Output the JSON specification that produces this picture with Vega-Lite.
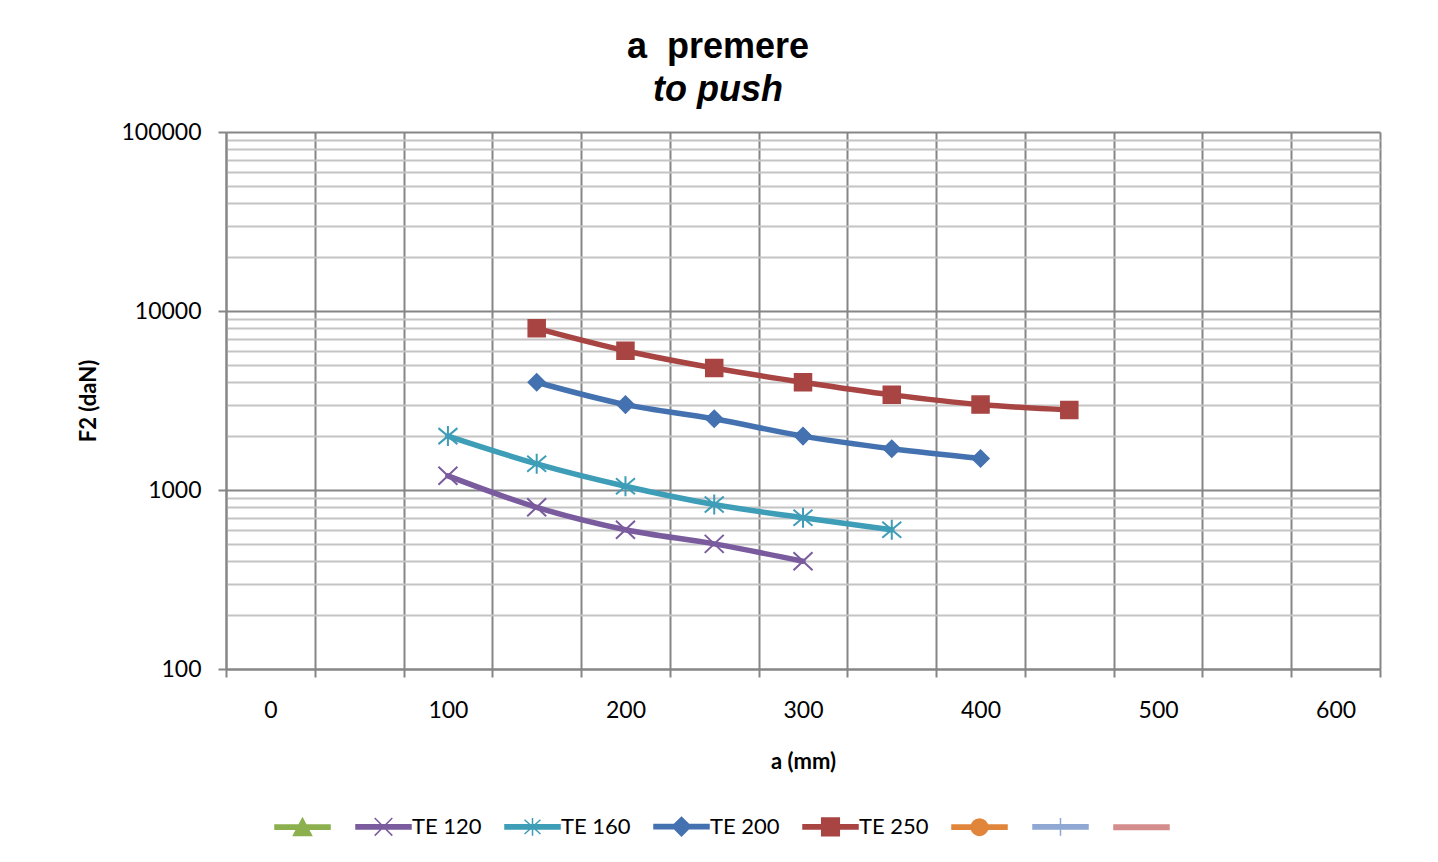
{
  "$schema": "https://vega.github.io/schema/vega-lite/v6.json",
  "width": 1154,
  "height": 537,
  "autosize": {"type": "none"},
  "padding": {"left": 226, "top": 132, "right": 58, "bottom": 193},
  "background": "white",
  "title": {
    "text": "a\u00a0 premere",
    "subtitle": "to push",
    "anchor": "middle",
    "frame": "group",
    "dx": -85,
    "offset": 12,
    "font": "Liberation Sans",
    "fontSize": 36,
    "fontWeight": "bold",
    "color": "black",
    "subtitleFont": "Liberation Sans",
    "subtitleFontSize": 36,
    "subtitleFontWeight": "bold",
    "subtitleFontStyle": "italic",
    "subtitleColor": "black",
    "subtitlePadding": 7
  },
  "config": {"view": {"stroke": null}},
  "data": {
    "values": [
      {"series": "TE 120", "a": 100, "F2": 1200},
      {"series": "TE 120", "a": 150, "F2": 800},
      {"series": "TE 120", "a": 200, "F2": 600},
      {"series": "TE 120", "a": 250, "F2": 500},
      {"series": "TE 120", "a": 300, "F2": 400},
      {"series": "TE 160", "a": 100, "F2": 2000},
      {"series": "TE 160", "a": 150, "F2": 1400},
      {"series": "TE 160", "a": 200, "F2": 1050},
      {"series": "TE 160", "a": 250, "F2": 830},
      {"series": "TE 160", "a": 300, "F2": 700},
      {"series": "TE 160", "a": 350, "F2": 600},
      {"series": "TE 200", "a": 150, "F2": 4000},
      {"series": "TE 200", "a": 200, "F2": 3000},
      {"series": "TE 200", "a": 250, "F2": 2500},
      {"series": "TE 200", "a": 300, "F2": 2000},
      {"series": "TE 200", "a": 350, "F2": 1700},
      {"series": "TE 200", "a": 400, "F2": 1500},
      {"series": "TE 250", "a": 150, "F2": 8000},
      {"series": "TE 250", "a": 200, "F2": 6000},
      {"series": "TE 250", "a": 250, "F2": 4800},
      {"series": "TE 250", "a": 300, "F2": 4000},
      {"series": "TE 250", "a": 350, "F2": 3400},
      {"series": "TE 250", "a": 400, "F2": 3000},
      {"series": "TE 250", "a": 450, "F2": 2800}
    ]
  },
  "layer": [
    {
      "mark": {"type": "line", "interpolate": "monotone", "strokeWidth": 5.5, "strokeCap": "round", "strokeJoin": "round"},
      "encoding": {
        "x": {
          "field": "a",
          "type": "quantitative",
          "scale": {"domain": [-25, 625], "nice": false, "zero": false},
          "axis": {
            "values": [-25, 0, 25, 50, 75, 100, 125, 150, 175, 200, 225, 250, 275, 300, 325, 350, 375, 400, 425, 450, 475, 500, 525, 550, 575, 600, 625],
            "format": "d",
            "labelExpr": "datum.value >= 0 && datum.value % 100 === 0 ? datum.label : ''",
            "labelFont": "Lato",
            "labelFontSize": 23,
            "labelColor": "black",
            "labelPadding": 22,
            "labelOverlap": false,
            "labelFlush": false,
            "tickColor": "#868686",
            "tickWidth": 2,
            "tickSize": 8,
            "tickOpacity": {"condition": {"test": "(datum.value + 25) % 50 === 0", "value": 1}, "value": 0},
            "grid": true,
            "gridColor": "#868686",
            "gridWidth": 2,
            "gridOpacity": {"condition": {"test": "(datum.value + 25) % 50 === 0", "value": 1}, "value": 0},
            "domainColor": "#868686",
            "domainWidth": 2,
            "title": "a (mm)",
            "titleFont": "Lato",
            "titleFontSize": 22,
            "titleFontWeight": "bold",
            "titleColor": "black",
            "titlePadding": 29
          }
        },
        "y": {
          "field": "F2",
          "type": "quantitative",
          "scale": {"type": "log", "domain": [100, 100000], "nice": false},
          "axis": {
            "values": [100, 200, 300, 400, 500, 600, 700, 800, 900, 1000, 2000, 3000, 4000, 5000, 6000, 7000, 8000, 9000, 10000, 20000, 30000, 40000, 50000, 60000, 70000, 80000, 90000, 100000],
            "format": "d",
            "labelExpr": "indexof([100, 1000, 10000, 100000], datum.value) >= 0 ? datum.label : ''",
            "labelFont": "Lato",
            "labelFontSize": 23,
            "labelColor": "black",
            "labelPadding": 17,
            "labelOverlap": false,
            "labelFlush": false,
            "tickColor": "#868686",
            "tickWidth": 2,
            "tickSize": 8,
            "tickOpacity": {"condition": {"test": "indexof([100, 1000, 10000, 100000], datum.value) >= 0", "value": 1}, "value": 0},
            "grid": true,
            "gridColor": {"condition": {"test": "indexof([100, 1000, 10000, 100000], datum.value) >= 0", "value": "#868686"}, "value": "#C4C4C4"},
            "gridWidth": 2,
            "domainColor": "#868686",
            "domainWidth": 2,
            "title": "F2 (daN)",
            "titleFont": "Lato",
            "titleFontSize": 22,
            "titleFontWeight": "bold",
            "titleColor": "black",
            "titlePadding": 20
          }
        },
        "color": {
          "field": "series",
          "type": "nominal",
          "scale": {
            "domain": ["Serie1", "TE 120", "TE 160", "TE 200", "TE 250", "Serie6", "Serie7", "Serie8"],
            "range": ["#8CB04E", "#7A5C9E", "#3E9DB7", "#4472B0", "#A84543", "#E0853A", "#8FA8D3", "#D48C8C"]
          }
        }
      }
    },
    {
      "transform": [{"filter": "datum.series === 'TE 120'"}],
      "mark": {"type": "point", "size": 400, "strokeWidth": 2, "opacity": 1, "filled": false, "stroke": "#7A5C9E", "shape": "M-0.95,-0.9L0.95,0.9M-0.95,0.9L0.95,-0.9"},
      "encoding": {"x": {"field": "a", "type": "quantitative"}, "y": {"field": "F2", "type": "quantitative"}}
    },
    {
      "transform": [{"filter": "datum.series === 'TE 160'"}],
      "mark": {"type": "point", "size": 400, "strokeWidth": 2, "opacity": 1, "filled": false, "stroke": "#3E9DB7", "shape": "M-0.95,-0.8L0.95,0.8M-0.95,0.8L0.95,-0.8M0,-1V1"},
      "encoding": {"x": {"field": "a", "type": "quantitative"}, "y": {"field": "F2", "type": "quantitative"}}
    },
    {
      "transform": [{"filter": "datum.series === 'TE 200'"}],
      "mark": {"type": "point", "size": 400, "strokeWidth": 1.5, "opacity": 1, "filled": true, "fill": "#4472B0", "stroke": "#4472B0", "shape": "M0,-0.85L0.85,0L0,0.85L-0.85,0Z"},
      "encoding": {"x": {"field": "a", "type": "quantitative"}, "y": {"field": "F2", "type": "quantitative"}}
    },
    {
      "transform": [{"filter": "datum.series === 'TE 250'"}],
      "mark": {"type": "point", "size": 400, "strokeWidth": 1.5, "opacity": 1, "filled": true, "fill": "#A84543", "stroke": "#A84543", "shape": "M-0.85,-0.85H0.85V0.85H-0.85Z"},
      "encoding": {"x": {"field": "a", "type": "quantitative"}, "y": {"field": "F2", "type": "quantitative"}}
    },
    {
      "transform": [{"filter": "false"}],
      "mark": {"type": "point", "filled": true, "opacity": 1},
      "encoding": {
        "x": {"field": "a", "type": "quantitative"},
        "y": {"field": "F2", "type": "quantitative"},
        "color": {
          "field": "series",
          "type": "nominal",
          "legend": {
            "title": null,
            "orient": "none",
            "legendX": 48,
            "legendY": 666,
            "direction": "horizontal",
            "columns": 8,
            "padding": 0,
            "symbolSize": 3025,
            "symbolStrokeWidth": 1.5,
            "labelFont": "Lato",
            "labelFontSize": 22,
            "labelColor": "black",
            "labelOffset": 0,
            "columnPadding": 20,
            "labelExpr": "indexof(['TE 120', 'TE 160', 'TE 200', 'TE 250'], datum.value) >= 0 ? datum.label : ''",
            "encode": {
              "symbols": {
                "update": {
                  "fill": {"scale": "color", "field": "value"},
                  "stroke": {"scale": "color", "field": "value"},
                  "strokeWidth": {"value": 1.5},
                  "opacity": {"value": 1}
                }
              }
            }
          }
        },
        "shape": {
          "field": "series",
          "type": "nominal",
          "scale": {
            "domain": ["Serie1", "TE 120", "TE 160", "TE 200", "TE 250", "Serie6", "Serie7", "Serie8"],
            "range": [
              "M-1,-0.08H1V0.08H-1ZM0,-0.32L0.33,0.3H-0.33Z",
              "M-1,-0.08H1V0.08H-1ZM-0.32,-0.32L0.32,0.32M-0.32,0.32L0.32,-0.32",
              "M-1,-0.08H1V0.08H-1ZM-0.29,-0.26L0.29,0.26M-0.29,0.26L0.29,-0.26M0,-0.32V0.32",
              "M-1,-0.08H1V0.08H-1ZM0,-0.34L0.34,0L0,0.34L-0.34,0Z",
              "M-1,-0.08H1V0.08H-1ZM-0.32,-0.32H0.32V0.32H-0.32Z",
              "M-1,-0.08H1V0.08H-1ZM0.3,0A0.3,0.3,0,1,1,-0.3,0A0.3,0.3,0,1,1,0.3,0Z",
              "M-1,-0.08H1V0.08H-1ZM0,-0.32V0.32",
              "M-1,-0.08H1V0.08H-1Z"
            ]
          },
          "legend": {
            "title": null,
            "orient": "none",
            "legendX": 48,
            "legendY": 666,
            "direction": "horizontal",
            "columns": 8,
            "padding": 0,
            "symbolSize": 3025,
            "symbolStrokeWidth": 1.5,
            "labelFont": "Lato",
            "labelFontSize": 22,
            "labelColor": "black",
            "labelOffset": 0,
            "columnPadding": 20,
            "labelExpr": "indexof(['TE 120', 'TE 160', 'TE 200', 'TE 250'], datum.value) >= 0 ? datum.label : ''"
          }
        }
      }
    }
  ]
}
